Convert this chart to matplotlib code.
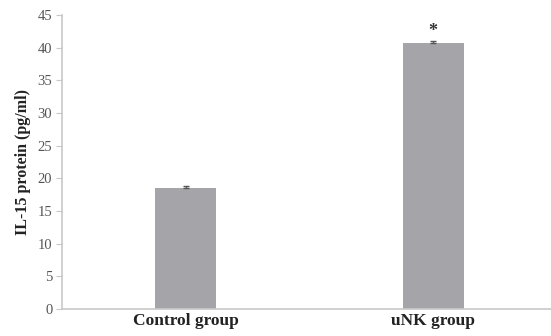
import numpy as np
import matplotlib.pyplot as plt

groups = ['Control group', 'uNK group']
il15 = [18.5, 40.8]
sem_up = [0.3, 0.3]
marks = ['', '*']

plt.rcParams['font.family'] = ['Liberation Serif', 'DejaVu Serif']

fig = plt.figure(figsize=(5.51, 3.36), dpi=100)
ax = fig.add_axes([0.1125, 0.080, 0.8875, 0.875])

x = np.arange(len(groups))
ax.bar(x, il15, width=0.247, color='#a5a5a9', zorder=2)
# only the upper half of the error bar is visible above the bar
ax.errorbar(x, il15, yerr=[np.zeros(len(x)), sem_up], fmt='none',
            ecolor='#555555', elinewidth=1, capsize=2.5, capthick=1, zorder=3)

for xi, v, m in zip(x, il15, marks):
    if m:
        ax.text(xi, v + 0.4, m, ha='center', va='bottom', fontsize=13,
                fontweight='bold', color='#333333')

ax.set_xlim(-0.5, 1.476)
ax.set_ylim(0, 45)
ax.set_yticks(range(0, 46, 5))
ax.set_xticks(x)
ax.set_xticklabels(groups, fontsize=12.5, fontweight='bold', color='#222222')
ax.set_ylabel('IL-15 protein (pg/ml)', fontsize=11.5, fontweight='bold',
              color='#222222', labelpad=5)

for s in ['top', 'right']:
    ax.spines[s].set_visible(False)
for s in ['left', 'bottom']:
    ax.spines[s].set_color('#c8c8c8')
    ax.spines[s].set_linewidth(1.2)

ax.tick_params(axis='y', length=4, color='#c8c8c8', labelsize=10.5,
               labelcolor='#555555', pad=3)
ax.tick_params(axis='x', length=0, pad=3)

fig.savefig('out.png', dpi=100)
